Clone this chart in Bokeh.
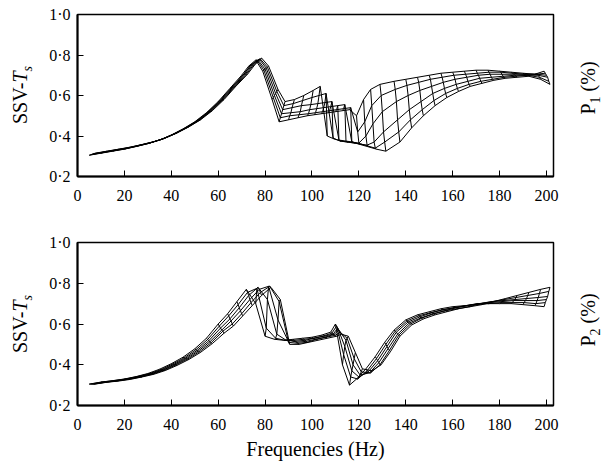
from bokeh.plotting import figure
from bokeh.layouts import column, row
from bokeh.models import Range1d, FixedTicker, CustomJSTickFormatter, Div
from bokeh.embed import file_html
from bokeh.resources import INLINE

FONT = "Liberation Serif"
X_TICKS = [0, 20, 40, 60, 80, 100, 120, 140, 160, 180, 200]
Y_TICKS = [0.2, 0.4, 0.6, 0.8, 1.0]
X_LABEL = "Frequencies (Hz)"
Y_LABEL_HTML = "SSV-<i>T</i><sub style='font-size:14px'><i>s</i></sub>"
P1_LABEL_HTML = "P<sub style='font-size:14px'>1</sub> (%)"
P2_LABEL_HTML = "P<sub style='font-size:14px'>2</sub> (%)"

# frequency offset of each P level in the oblique (waterfall) view
P_SHIFT_HZ = [0.0, 0.5, 1.0, 1.5, 2.0, 2.5]

# ---------------- top panel: P1 ----------------
TOP_FREQ = [5, 10, 15, 20, 25, 30, 35, 40, 45, 50, 55, 60, 65, 70, 73, 76,
            79, 83, 86, 90, 94, 98, 101, 104, 107, 110, 113, 116, 119, 122,
            125, 129, 135, 140, 145, 150, 155, 160, 165, 170, 175, 180, 185,
            190, 195, 199]

TOP_P1_L0 = [0.305, 0.315, 0.325, 0.335, 0.348, 0.362, 0.38, 0.405, 0.435, 0.47,
             0.515, 0.57, 0.635, 0.70, 0.745, 0.775,
             0.72, 0.58, 0.47, 0.48, 0.49, 0.50, 0.505, 0.51, 0.515, 0.52,
             0.525, 0.53, 0.50, 0.58, 0.63, 0.655, 0.67, 0.68, 0.69, 0.70,
             0.71, 0.715, 0.72, 0.725, 0.725, 0.72, 0.715, 0.71, 0.705, 0.72]
TOP_P1_L1 = [0.307, 0.317, 0.327, 0.337, 0.35, 0.364, 0.382, 0.407, 0.437, 0.472,
             0.517, 0.572, 0.637, 0.70, 0.745, 0.775,
             0.725, 0.59, 0.49, 0.50, 0.505, 0.51, 0.515, 0.52, 0.525, 0.53,
             0.535, 0.54, 0.42, 0.47, 0.55, 0.60, 0.63, 0.65, 0.665, 0.68,
             0.69, 0.70, 0.705, 0.71, 0.715, 0.715, 0.71, 0.705, 0.705, 0.71]
TOP_P1_L2 = [0.309, 0.319, 0.329, 0.339, 0.352, 0.366, 0.384, 0.409, 0.439, 0.474,
             0.519, 0.574, 0.639, 0.705, 0.75, 0.775,
             0.73, 0.60, 0.51, 0.515, 0.52, 0.53, 0.535, 0.54, 0.545, 0.55,
             0.555, 0.37, 0.365, 0.40, 0.46, 0.52, 0.57, 0.60, 0.625, 0.645,
             0.665, 0.68, 0.69, 0.70, 0.705, 0.705, 0.705, 0.705, 0.705, 0.70]
TOP_P1_L3 = [0.311, 0.321, 0.331, 0.341, 0.354, 0.368, 0.386, 0.411, 0.441, 0.476,
             0.521, 0.576, 0.641, 0.705, 0.75, 0.78,
             0.735, 0.61, 0.53, 0.54, 0.55, 0.555, 0.56, 0.565, 0.57, 0.38,
             0.375, 0.37, 0.36, 0.355, 0.37, 0.42, 0.48, 0.53, 0.57, 0.61,
             0.635, 0.655, 0.67, 0.685, 0.69, 0.695, 0.70, 0.70, 0.70, 0.69]
TOP_P1_L4 = [0.313, 0.323, 0.333, 0.343, 0.356, 0.37, 0.388, 0.413, 0.443, 0.478,
             0.523, 0.578, 0.643, 0.705, 0.75, 0.78,
             0.74, 0.62, 0.55, 0.56, 0.575, 0.59, 0.60, 0.61, 0.39, 0.375,
             0.37, 0.365, 0.36, 0.35, 0.34, 0.37, 0.42, 0.48, 0.53, 0.575,
             0.61, 0.635, 0.655, 0.67, 0.68, 0.69, 0.695, 0.70, 0.69, 0.67]
TOP_P1_L5 = [0.315, 0.325, 0.335, 0.345, 0.358, 0.372, 0.39, 0.415, 0.445, 0.48,
             0.525, 0.58, 0.645, 0.705, 0.75, 0.785,
             0.745, 0.63, 0.57, 0.58, 0.60, 0.625, 0.645, 0.40, 0.385, 0.375,
             0.37, 0.365, 0.355, 0.345, 0.335, 0.325, 0.37, 0.44, 0.50, 0.55,
             0.59, 0.62, 0.645, 0.66, 0.675, 0.685, 0.69, 0.695, 0.68, 0.655]

# ---------------- bottom panel: P2 ----------------
BOT_FREQ = [5, 10, 15, 20, 25, 30, 35, 40, 45, 50, 55, 60, 64, 68, 72, 76,
            80, 84, 88, 92, 96, 100, 104, 108, 110, 113, 116, 119, 123, 127,
            131, 135, 140, 145, 150, 155, 160, 165, 170, 175, 180, 185, 190,
            195, 199]

BOT_P2_L0 = [0.305, 0.315, 0.322, 0.33, 0.342, 0.357, 0.378, 0.405, 0.437, 0.478, 0.53,
             0.60, 0.65, 0.71, 0.77, 0.70, 0.54, 0.525, 0.52, 0.525, 0.53,
             0.535, 0.545, 0.56, 0.60, 0.40, 0.30, 0.33, 0.38, 0.44, 0.51,
             0.57, 0.62, 0.645, 0.66, 0.675, 0.685, 0.69, 0.695, 0.70, 0.70,
             0.70, 0.695, 0.69, 0.685]
BOT_P2_L1 = [0.305, 0.315, 0.322, 0.33, 0.342, 0.356, 0.376, 0.403, 0.434, 0.474, 0.524,
             0.59, 0.64, 0.695, 0.755, 0.775, 0.58, 0.53, 0.52, 0.52, 0.525,
             0.53, 0.54, 0.555, 0.59, 0.45, 0.34, 0.33, 0.37, 0.43, 0.50,
             0.565, 0.615, 0.64, 0.655, 0.67, 0.68, 0.69, 0.70, 0.70, 0.705,
             0.705, 0.705, 0.70, 0.705]
BOT_P2_L2 = [0.305, 0.314, 0.321, 0.33, 0.341, 0.355, 0.375, 0.401, 0.432, 0.47, 0.518,
             0.58, 0.625, 0.68, 0.74, 0.78, 0.72, 0.55, 0.52, 0.515, 0.52,
             0.53, 0.54, 0.55, 0.58, 0.49, 0.37, 0.34, 0.365, 0.42, 0.49,
             0.56, 0.61, 0.635, 0.655, 0.67, 0.68, 0.69, 0.70, 0.705, 0.71,
             0.715, 0.715, 0.715, 0.72]
BOT_P2_L3 = [0.305, 0.314, 0.321, 0.329, 0.341, 0.355, 0.374, 0.40, 0.43, 0.467, 0.513,
             0.57, 0.615, 0.665, 0.72, 0.77, 0.785, 0.62, 0.525, 0.51, 0.515,
             0.525, 0.535, 0.55, 0.57, 0.52, 0.40, 0.35, 0.36, 0.41, 0.48,
             0.55, 0.605, 0.63, 0.65, 0.665, 0.68, 0.69, 0.70, 0.71, 0.715,
             0.72, 0.725, 0.73, 0.735]
BOT_P2_L4 = [0.305, 0.314, 0.321, 0.329, 0.34, 0.354, 0.373, 0.399, 0.428, 0.464, 0.508,
             0.565, 0.60, 0.65, 0.705, 0.755, 0.785, 0.71, 0.51, 0.505, 0.51,
             0.525, 0.535, 0.545, 0.56, 0.53, 0.43, 0.365, 0.36, 0.40, 0.47,
             0.545, 0.60, 0.63, 0.65, 0.665, 0.675, 0.685, 0.70, 0.71, 0.72,
             0.73, 0.74, 0.75, 0.76]
BOT_P2_L5 = [0.305, 0.314, 0.32, 0.328, 0.34, 0.353, 0.372, 0.397, 0.426, 0.461, 0.504,
             0.555, 0.59, 0.64, 0.69, 0.74, 0.78, 0.72, 0.50, 0.50, 0.51,
             0.52, 0.53, 0.54, 0.55, 0.54, 0.46, 0.38, 0.37, 0.40, 0.465,
             0.54, 0.595, 0.625, 0.645, 0.66, 0.675, 0.685, 0.695, 0.71, 0.725,
             0.74, 0.755, 0.77, 0.78]

TOP_CURVES = [TOP_P1_L0, TOP_P1_L1, TOP_P1_L2, TOP_P1_L3, TOP_P1_L4, TOP_P1_L5]
BOT_CURVES = [BOT_P2_L0, BOT_P2_L1, BOT_P2_L2, BOT_P2_L3, BOT_P2_L4, BOT_P2_L5]

X_MAX = 203.0
SIDE_L = 40          # width of the strip holding the left title
SIDE_R = 40          # width of the strip holding the right title
MAIN_W = 614 - SIDE_L - SIDE_R
BORDER_L = 37
BORDER_R = 21


def title_strip(width, height, cx, cy, html):
    """HTML strip holding a bottom-to-top rotated title centred at (cx, cy) px."""
    inner = (
        f"<div style=\"position:relative;width:{width}px;height:{height}px;overflow:visible;\">"
        f"<span style=\"position:absolute;left:{cx}px;top:{cy}px;"
        "transform:translate(-50%,-50%) rotate(-90deg);white-space:nowrap;"
        f"font-family:'{FONT}';font-size:20px;line-height:1;color:#000;\">{html}</span></div>"
    )
    return Div(text=inner, width=width, height=height, margin=0,
               styles={"overflow": "visible", "background-color": "white"})


def make_panel(freq, curves, height, btop, bbottom, right_html, xlabel, right_dy):
    frame_h = height - btop - bbottom
    p = figure(width=MAIN_W, height=height, output_backend="svg", toolbar_location=None,
               x_range=Range1d(0, X_MAX), y_range=Range1d(0.2, 1.0),
               min_border_left=BORDER_L, min_border_right=BORDER_R,
               min_border_top=btop, min_border_bottom=bbottom)
    p.grid.visible = False
    p.background_fill_color = "white"
    p.border_fill_color = "white"
    p.outline_line_color = "black"
    p.outline_line_width = 1.5
    p.outline_line_alpha = 1.0

    p.xaxis.ticker = FixedTicker(ticks=X_TICKS)
    p.yaxis.ticker = FixedTicker(ticks=Y_TICKS)
    p.yaxis.formatter = CustomJSTickFormatter(code="return tick.toFixed(1).replace('.', '\u00b7');")
    for ax in (p.xaxis[0], p.yaxis[0]):
        ax.axis_line_width = 2
        ax.axis_line_color = "black"
        ax.major_tick_in = 6
        ax.major_tick_out = 0
        ax.major_tick_line_color = "black"
        ax.major_tick_line_width = 1
        ax.minor_tick_line_color = None
        ax.major_label_text_font = FONT
        ax.major_label_text_font_size = "16px"
        ax.major_label_text_color = "black"
    p.xaxis.major_label_standoff = 13
    p.yaxis.major_label_standoff = 7
    if xlabel:
        p.xaxis.axis_label = xlabel
        p.xaxis.axis_label_text_font = FONT
        p.xaxis.axis_label_text_font_size = "20px"
        p.xaxis.axis_label_text_font_style = "normal"
        p.xaxis.axis_label_text_color = "black"
        p.xaxis.axis_label_standoff = 5

    n = len(curves)
    xs_c = [[f + P_SHIFT_HZ[k] for f in freq] for k in range(n)]
    p.multi_line(xs_c, curves, line_color="black", line_width=1)
    xs_x = [[xs_c[k][i] for k in range(n)] for i in range(len(freq))]
    ys_x = [[curves[k][i] for k in range(n)] for i in range(len(freq))]
    p.multi_line(xs_x, ys_x, line_color="black", line_width=1)

    cy = btop + frame_h / 2.0
    left = title_strip(SIDE_L, height, 22, cy, Y_LABEL_HTML)
    right = title_strip(SIDE_R, height, 16, cy + right_dy, right_html)
    return row(left, p, right, spacing=0)


r1 = make_panel(TOP_FREQ, TOP_CURVES, 222, 14, 46, P1_LABEL_HTML, None, -7)
r2 = make_panel(BOT_FREQ, BOT_CURVES, 245, 20, 62, P2_LABEL_HTML, X_LABEL, -4)

layout = column(r1, r2, spacing=0)
open("out.html", "w").write(file_html(layout, INLINE))
